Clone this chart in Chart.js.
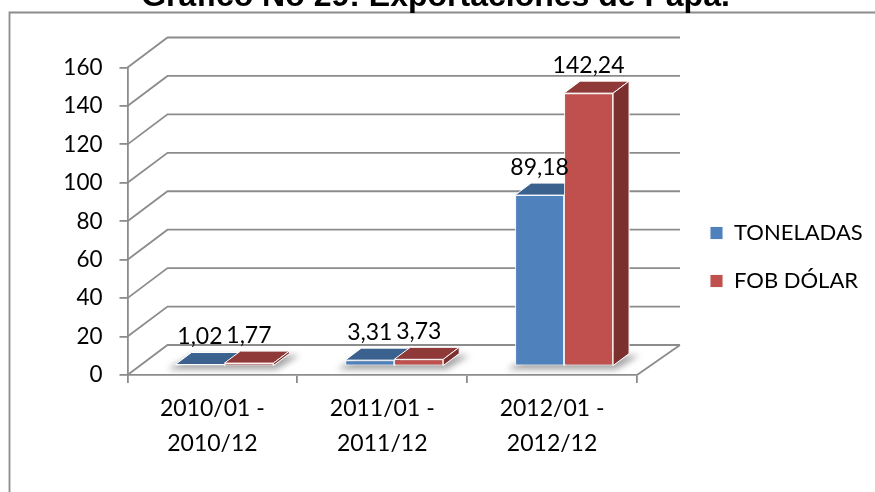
<!DOCTYPE html>
<html lang="es">

<head>
    <meta charset="UTF-8" />
    <title>Gráfico No 29: Exportaciones de Papa.</title>
    <script src="https://cdn.jsdelivr.net/npm/chart.js"></script>
    <style>
        html, body { margin: 0; background: #fff; overflow: hidden; }
        canvas { display: block; }
    </style>
</head>

<body>
    <canvas id="grafica" width="875" height="492"></canvas>

    <script>
        const titulo = "Gráfico No 29: Exportaciones de Papa.";
        const categorias = [["2010/01 -", "2010/12"], ["2011/01 -", "2011/12"], ["2012/01 -", "2012/12"]];
        const toneladas = [1.02, 3.31, 89.18];
        const fobDolar = [1.77, 3.73, 142.24];

        const fuente = "Lato, Carlito, sans-serif";
        const gris = "#8c8c8c";

        // profundidad del piso y de las barras (efecto 3D)
        const PISO = { dx: 40, dy: -30 };
        const BASE = { dx: 12, dy: -8.5 };
        const FONDO = { dx: 16, dy: -12 };
        const PARED_DERECHA = 680;

        const caras = [
            { arriba: "#3b618f", lado: "#2f4d72" },
            { arriba: "#8f3a38", lado: "#7c302e" }
        ];

        function poligono(ctx, puntos, relleno, borde) {
            ctx.beginPath();
            puntos.forEach(([x, y], i) => (i ? ctx.lineTo(x, y) : ctx.moveTo(x, y)));
            ctx.closePath();
            ctx.fillStyle = relleno;
            ctx.fill();
            if (borde) {
                ctx.strokeStyle = borde;
                ctx.lineWidth = 1;
                ctx.stroke();
            }
        }

        function dibujarPared(chart) {
            const { ctx, scales: { x, y } } = chart;
            ctx.save();
            ctx.strokeStyle = gris;
            ctx.lineWidth = 1.8;
            y.ticks.forEach(t => {
                const py = y.getPixelForValue(t.value);
                ctx.beginPath();
                ctx.moveTo(x.left, py);
                ctx.lineTo(x.left + PISO.dx, py + PISO.dy);
                ctx.lineTo(PARED_DERECHA, py + PISO.dy);
                ctx.stroke();
            });
            // borde derecho del piso
            const y0 = y.getPixelForValue(0);
            ctx.beginPath();
            ctx.moveTo(x.right, y0);
            ctx.lineTo(PARED_DERECHA, y0 + PISO.dy);
            ctx.stroke();
            ctx.restore();
        }

        function dibujarSombras(chart) {
            const { ctx } = chart;
            const a = chart.getDatasetMeta(0).data;
            const b = chart.getDatasetMeta(1).data;
            const y0 = chart.scales.y.getPixelForValue(0) + BASE.dy;
            ctx.save();
            ctx.filter = "blur(3px)";
            a.forEach((el, i) => {
                const izq = el.x - el.width / 2 + BASE.dx;
                const der = b[i].x + b[i].width / 2 + BASE.dx;
                poligono(ctx, [
                    [izq - 8, y0 + 3],
                    [der + 3, y0 + 3],
                    [der + FONDO.dx + 10, y0 + FONDO.dy + 1],
                    [izq + FONDO.dx, y0 + FONDO.dy + 1]
                ], "#a6a6a6");
            });
            ctx.restore();
        }

        function dibujarCaras(chart, indice) {
            const { ctx } = chart;
            chart.getDatasetMeta(indice).data.forEach(el => {
                const izq = el.x - el.width / 2;
                const der = el.x + el.width / 2;
                poligono(ctx, [
                    [izq, el.y], [der, el.y],
                    [der + FONDO.dx, el.y + FONDO.dy], [izq + FONDO.dx, el.y + FONDO.dy]
                ], caras[indice].arriba, "#fff");
                poligono(ctx, [
                    [der, el.y], [der + FONDO.dx, el.y + FONDO.dy],
                    [der + FONDO.dx, el.base + FONDO.dy], [der, el.base]
                ], caras[indice].lado, "#fff");
            });
        }

        function dibujarEtiquetas(chart) {
            const { ctx } = chart;
            ctx.save();
            ctx.font = "23px " + fuente;
            ctx.fillStyle = "#000";
            ctx.textAlign = "center";
            ctx.textBaseline = "middle";
            chart.data.datasets.forEach((ds, d) => {
                chart.getDatasetMeta(d).data.forEach((el, i) => {
                    const texto = ds.data[i].toFixed(2).replace(".", ",");
                    ctx.fillText(texto, el.x + BASE.dx, el.y + BASE.dy - 28);
                });
            });
            ctx.restore();
        }

        const barras3d = {
            id: "barras3d",
            beforeDatasetsDraw(chart) {
                const { ctx } = chart;
                dibujarPared(chart);
                dibujarSombras(chart);
                // azul primero y rojo encima, como en el original
                ctx.save();
                ctx.translate(BASE.dx, BASE.dy);
                chart.data.datasets.forEach((ds, d) => {
                    dibujarCaras(chart, d);
                    chart.getDatasetMeta(d).controller.draw();
                });
                ctx.restore();
                dibujarEtiquetas(chart);
                return false;
            }
        };

        const marco = {
            id: "marco",
            beforeDraw(chart) {
                const { ctx, width, height } = chart;
                ctx.save();
                ctx.strokeStyle = gris;
                ctx.lineWidth = 1.8;
                ctx.beginPath();
                ctx.moveTo(9.5, height);
                ctx.lineTo(9.5, 12.5);
                ctx.lineTo(width, 12.5);
                ctx.stroke();
                ctx.restore();
            }
        };

        // la leyenda queda fuera del area de barras y el titulo centrado en el marco
        const acomodar = {
            id: "acomodar",
            afterLayout(chart) {
                const l = chart.legend;
                const p = l.options.labels.padding;
                const ancho = l.width;
                const alto = l.height;
                l.left = 710 - p;
                l.right = l.left + ancho;
                l.top = 222 - p;
                l.bottom = l.top + alto;

                chart.titleBlock.left += 117;
                chart.titleBlock.right += 117;
            }
        };

        new Chart(document.getElementById("grafica"), {
            type: "bar",
            data: {
                labels: categorias,
                datasets: [
                    { label: "TONELADAS", data: toneladas, backgroundColor: "#4f81bd", borderColor: "#f4f7fb", borderWidth: 1 },
                    { label: "FOB DÓLAR", data: fobDolar, backgroundColor: "#c0504d", borderColor: "#fbf4f4", borderWidth: 1 }
                ]
            },
            options: {
                responsive: false,
                animation: false,
                layout: { padding: { left: 0, right: 238, top: 0, bottom: 0 } },
                datasets: { bar: { categoryPercentage: 0.577, barPercentage: 1, borderSkipped: false } },
                plugins: {
                    title: {
                        display: true,
                        text: titulo,
                        color: "#000",
                        font: { family: "'Liberation Sans', Arial, sans-serif", size: 32, weight: "bold", lineHeight: 1.2 },
                        padding: { top: -22.2, bottom: 51.3 }
                    },
                    legend: {
                        position: "chartArea",
                        align: "start",
                        labels: {
                            boxWidth: 13,
                            boxHeight: 13,
                            padding: 26,
                            color: "#000",
                            font: { family: fuente, size: 22 }
                        }
                    },
                    tooltip: { enabled: false }
                },
                scales: {
                    x: {
                        afterFit(s) { s.height = 117; },
                        grid: { drawOnChartArea: false, color: gris, lineWidth: 1.8, tickLength: 8 },
                        border: { color: gris, width: 1.8 },
                        ticks: {
                            color: "#000",
                            padding: 8,
                            maxRotation: 0,
                            autoSkip: false,
                            font: { family: fuente, size: 23, lineHeight: 1.52 }
                        }
                    },
                    y: {
                        min: 0,
                        max: 160,
                        afterFit(s) { s.width = 127.5; },
                        grid: { drawOnChartArea: false, color: gris, lineWidth: 1.8, tickLength: 8 },
                        border: { color: gris, width: 1.8 },
                        ticks: {
                            stepSize: 20,
                            color: "#000",
                            padding: 17,
                            font: { family: fuente, size: 22.5 }
                        }
                    }
                }
            },
            plugins: [marco, acomodar, barras3d]
        });
    </script>
</body>

</html>
